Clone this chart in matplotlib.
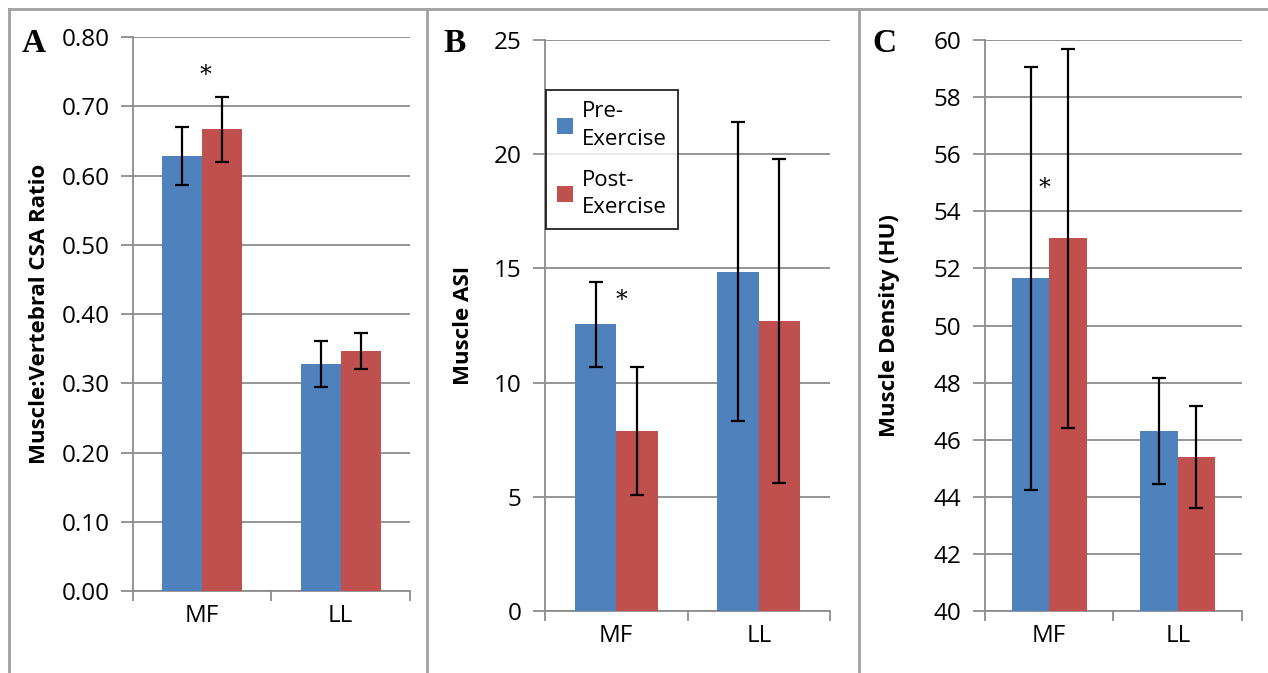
import numpy as np
import matplotlib
matplotlib.use("Agg")
import matplotlib.pyplot as plt
from matplotlib.lines import Line2D

# data
groups = ["MF", "LL"]

a_pre = [0.628, 0.328]
a_pre_err = [0.042, 0.033]
a_post = [0.667, 0.346]
a_post_err = [0.047, 0.026]

b_pre = [12.55, 14.85]
b_pre_err = [1.85, 6.55]
b_post = [7.9, 12.7]
b_post_err = [2.8, 7.1]

c_pre = [51.65, 46.3]
c_pre_err = [7.4, 1.85]
c_post = [53.05, 45.4]
c_post_err = [6.65, 1.78]

BLUE = "#4F81BD"
RED = "#C0504D"
GRID = "#8C8C8C"

plt.rcParams['font.family'] = ['Open Sans', 'DejaVu Sans']

fig = plt.figure(figsize=(12.68, 6.73), dpi=100)


def panel(rect, pre, pre_err, post, post_err, ylim, yticks, fmt, ylabel, lpad):
    ax = fig.add_axes(rect)
    x = np.arange(len(groups))
    w = 0.29
    ax.bar(x - w / 2, pre, w, color=BLUE, label="Pre-\nExercise", zorder=3)
    ax.bar(x + w / 2, post, w, color=RED, label="Post-\nExercise", zorder=3)
    ax.errorbar(x - w / 2, pre, yerr=pre_err, fmt="none", ecolor="black",
                elinewidth=1.6, capsize=5, capthick=1.6, zorder=4)
    ax.errorbar(x + w / 2, post, yerr=post_err, fmt="none", ecolor="black",
                elinewidth=1.6, capsize=5, capthick=1.6, zorder=4)
    ax.set_xlim(-0.5, 1.5)
    ax.set_ylim(*ylim)
    ax.set_yticks(yticks)
    ax.set_yticklabels([fmt.format(v) for v in yticks], fontsize=17.5)
    ax.yaxis.grid(True, color=GRID, linewidth=1.3, zorder=0)
    ax.set_axisbelow(True)
    ax.set_xticks([-0.5, 0.5, 1.5])
    ax.set_xticklabels([])
    ax.set_xticks([0, 1], minor=True)
    ax.set_xticklabels(groups, minor=True, fontsize=17.5)
    ax.tick_params(axis="x", which="major", length=7, color=GRID, width=1.3)
    ax.tick_params(axis="x", which="minor", length=0, pad=9)
    ax.tick_params(axis="y", length=9, color=GRID, width=1.3, pad=8)
    for s in ["top", "right"]:
        ax.spines[s].set_visible(False)
    for s in ["left", "bottom"]:
        ax.spines[s].set_color(GRID)
        ax.spines[s].set_linewidth(1.3)
    ax.set_ylabel(ylabel, fontsize=16, fontweight="bold", labelpad=lpad)
    return ax


axA = panel([0.1049, 0.1218, 0.2184, 0.823], a_pre, a_pre_err, a_post, a_post_err,
            (0, 0.8), np.arange(0, 0.81, 0.1), "{:.2f}", "Muscle:Vertebral CSA Ratio", 8)
axB = panel([0.4298, 0.0921, 0.2248, 0.8484], b_pre, b_pre_err, b_post, b_post_err,
            (0, 25), np.arange(0, 26, 5), "{:.0f}", "Muscle ASI", 14)
axC = panel([0.7768, 0.0921, 0.2027, 0.8484], c_pre, c_pre_err, c_post, c_post_err,
            (40, 60), np.arange(40, 61, 2), "{:.0f}", "Muscle Density (HU)", 24)

# significance stars
axA.text(0.02, 0.745, "*", fontsize=17, ha="center", va="center", family="DejaVu Serif")
axB.text(0.04, 13.6, "*", fontsize=17, ha="center", va="center", family="DejaVu Serif")
axC.text(-0.04, 54.8, "*", fontsize=17, ha="center", va="center", family="DejaVu Serif")

# panel letters
for xx, yy, s in [(0.017, 0.935, "A"), (0.35, 0.935, "B"), (0.688, 0.935, "C")]:
    fig.text(xx, yy, s, fontsize=24, fontweight="bold", family="Liberation Serif",
             ha="left", va="center")

# legend in panel B
leg = axB.legend(loc="upper left", bbox_to_anchor=(0.002, 0.912), fontsize=16,
                 frameon=True, fancybox=False, handlelength=0.75, handleheight=0.75,
                 handletextpad=0.4, labelspacing=0.9, borderpad=0.5, borderaxespad=0)
leg.get_frame().set_edgecolor("black")
leg.get_frame().set_linewidth(1.4)
for t in leg.get_texts():
    t.set_linespacing(1.4)

# outer frame lines
fc = "#a0a0a0"
fig.add_artist(Line2D([9 / 1268, 9 / 1268], [0, 1 - 9 / 673], transform=fig.transFigure, color=fc, lw=2))
fig.add_artist(Line2D([9 / 1268, 1], [1 - 9 / 673, 1 - 9 / 673], transform=fig.transFigure, color=fc, lw=2))
for xs in [427, 859]:
    fig.add_artist(Line2D([xs / 1268, xs / 1268], [0, 1 - 9 / 673], transform=fig.transFigure, color=fc, lw=2))

fig.savefig("out.png", dpi=100)
